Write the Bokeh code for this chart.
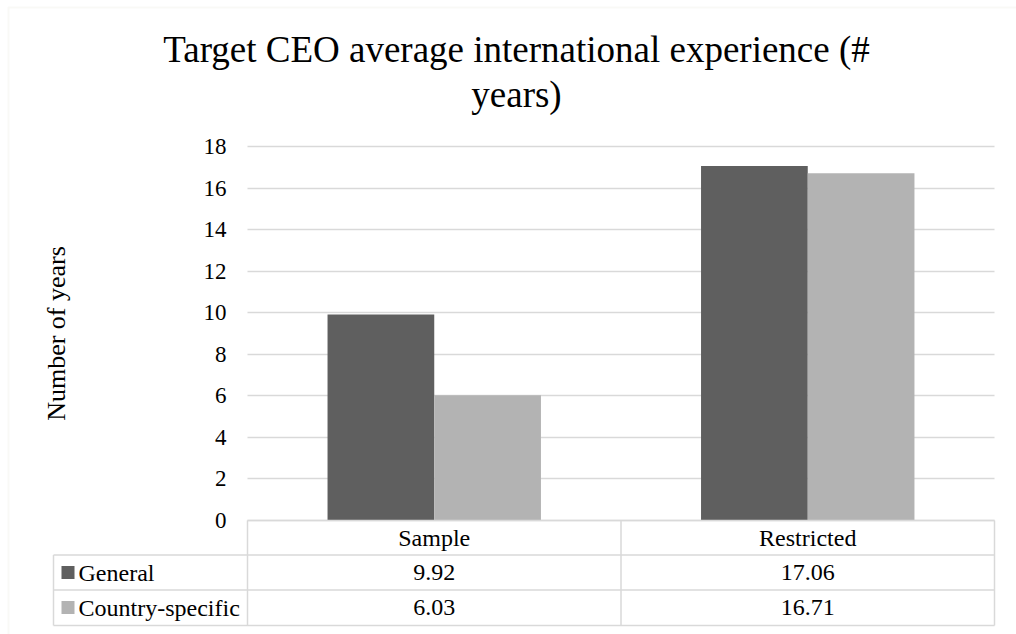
import math
from bokeh.plotting import figure
from bokeh.models import (Range1d, FixedTicker, ColumnDataSource, Label, BoxAnnotation)
from bokeh.transform import dodge
from bokeh.core.properties import value
from bokeh.embed import file_html
from bokeh.resources import INLINE

# ---------------- data ----------------
categories = ["Sample", "Restricted"]
series_names = ["General", "Country-specific"]
general = [9.92, 17.06]
country_specific = [6.03, 16.71]
y_ticks = [0, 2, 4, 6, 8, 10, 12, 14, 16, 18]
title_lines = ["Target CEO average international experience (#", "years)"]
y_title = "Number of years"

# ---------------- style / layout ----------------
FONT = "Liberation Serif"
DARK = "#5f5f5f"
LIGHT = "#b3b3b3"
GRID = "#d9d9d9"
TXT = "#000000"
CW, CH = 1016, 634
PL, PR, PT, PB = 247, 994, 146, 520       # plot area (canvas px)
YMAX = max(y_ticks)
XU = (PR - PL) / len(categories)          # px per category
YU = (PB - PT) / YMAX                     # px per unit

def dx(X):   # canvas px -> data x
    return (X - PL) / XU

def dy(Y):   # canvas px -> data y
    return (PB - Y) / YU

p = figure(x_range=Range1d(dx(0), dx(CW)), y_range=Range1d(dy(CH), dy(0)),
           frame_width=CW, frame_height=CH,
           min_border=0, min_border_left=0, min_border_right=0,
           min_border_top=0, min_border_bottom=0,
           output_backend="svg", toolbar_location=None)
p.outline_line_color = None
p.background_fill_color = "white"
p.border_fill_color = "white"

xpos = [i + 0.5 for i in range(len(categories))]
src = ColumnDataSource(dict(x=xpos, cat=categories, general=general,
                            country=country_specific,
                            gtxt=[f"{v:.2f}" for v in general],
                            ctxt=[f"{v:.2f}" for v in country_specific]))

# ---------------- gridlines ----------------
p.xgrid.visible = False
use_grid = True
try:
    p.ygrid.cross_bounds = (0, len(categories))
except Exception:
    use_grid = False
if use_grid:
    p.ygrid.ticker = FixedTicker(ticks=y_ticks)
    p.ygrid.grid_line_color = GRID
    p.ygrid.grid_line_width = 1.5
else:
    p.ygrid.visible = False
    p.segment(x0=0, x1=len(categories), y0=y_ticks, y1=y_ticks,
              line_color=GRID, line_width=1.5, level="underlay")

# ---------------- bars ----------------
gap = 0.75
bw = 1.0 / (1.0 + gap) / 2.0
p.vbar(x=dodge("x", -bw / 2), top="general", width=bw, source=src,
       fill_color=DARK, line_color=None)
p.vbar(x=dodge("x", bw / 2), top="country", width=bw, source=src,
       fill_color=LIGHT, line_color=None)

# ---------------- axes ----------------
ya = p.yaxis[0]
ya.fixed_location = 0
ya.bounds = (0, YMAX)
ya.ticker = FixedTicker(ticks=y_ticks)
ya.axis_line_color = None
ya.major_tick_line_color = None
ya.minor_tick_line_color = None
ya.major_tick_out = 0
ya.major_tick_in = 0
ya.major_label_standoff = 21
ya.major_label_text_font = FONT
ya.major_label_text_font_size = "23px"
ya.major_label_text_color = TXT
ya.axis_label = y_title
ya.axis_label_text_font = FONT
ya.axis_label_text_font_size = "26px"
ya.axis_label_text_font_style = "normal"
ya.axis_label_text_color = TXT
ya.axis_label_standoff = 130

xa = p.xaxis[0]
xa.fixed_location = 0
xa.bounds = (0, len(categories))
xa.ticker = FixedTicker(ticks=xpos)
xa.major_label_overrides = {x: c for x, c in zip(xpos, categories)}
xa.axis_line_color = GRID
xa.axis_line_width = 1.5
xa.major_tick_line_color = None
xa.minor_tick_line_color = None
xa.major_tick_out = 0
xa.major_tick_in = 0
xa.major_label_standoff = 4
xa.major_label_text_font = FONT
xa.major_label_text_font_size = "24px"
xa.major_label_text_color = TXT

# ---------------- data table ----------------
rows = [520, 554.5, 589.5, 625]
TL = 53
seg_x0 = [dx(TL), dx(TL), dx(TL), dx(TL), dx(PL), dx((PL + PR) / 2), dx(PR)]
seg_x1 = [dx(PR), dx(PR), dx(PR), dx(TL), dx(PL), dx((PL + PR) / 2), dx(PR)]
seg_y0 = [dy(rows[1]), dy(rows[2]), dy(rows[3]), dy(rows[1]), dy(rows[0]), dy(rows[0]), dy(rows[0])]
seg_y1 = [dy(rows[1]), dy(rows[2]), dy(rows[3]), dy(rows[3]), dy(rows[3]), dy(rows[3]), dy(rows[3])]
p.segment(x0=seg_x0, x1=seg_x1, y0=seg_y0, y1=seg_y1, line_color=GRID, line_width=1.5)

row_mid = [572, 607]
colors = [DARK, LIGHT]
p.quad(left=[dx(61)] * 2, right=[dx(74)] * 2,
       top=[dy(m - 6.5) for m in row_mid], bottom=[dy(m + 6.5) for m in row_mid],
       fill_color=colors, line_color=None)
p.text(x=[dx(78)] * 2, y=[dy(m) for m in row_mid], text=series_names,
       text_font=value(FONT), text_font_size=value("24px"), text_color=TXT,
       text_align="left", text_baseline="middle")
for col, m in zip(["gtxt", "ctxt"], row_mid):
    p.text(x="x", y=dy(m), text=col, source=src,
           text_font=value(FONT), text_font_size=value("24px"), text_color=TXT,
           text_align="center", text_baseline="middle")

# ---------------- title ----------------
for line, mid in zip(title_lines, [48.5, 93.5]):
    p.add_layout(Label(x=516, y=CH - mid, x_units="screen", y_units="screen",
                       text=line, text_font=FONT, text_font_size="37px",
                       text_color=TXT, text_align="center",
                       text_baseline="middle"))

# ---------------- outer chart border ----------------
p.add_layout(BoxAnnotation(left=8, right=CW + 100, top=CH - 7, bottom=-100,
                           left_units="screen", right_units="screen",
                           top_units="screen", bottom_units="screen",
                           fill_color=None, line_color="#ecece2", line_width=2,
                           level="underlay"))

open("out.html", "w").write(file_html(p, INLINE))
